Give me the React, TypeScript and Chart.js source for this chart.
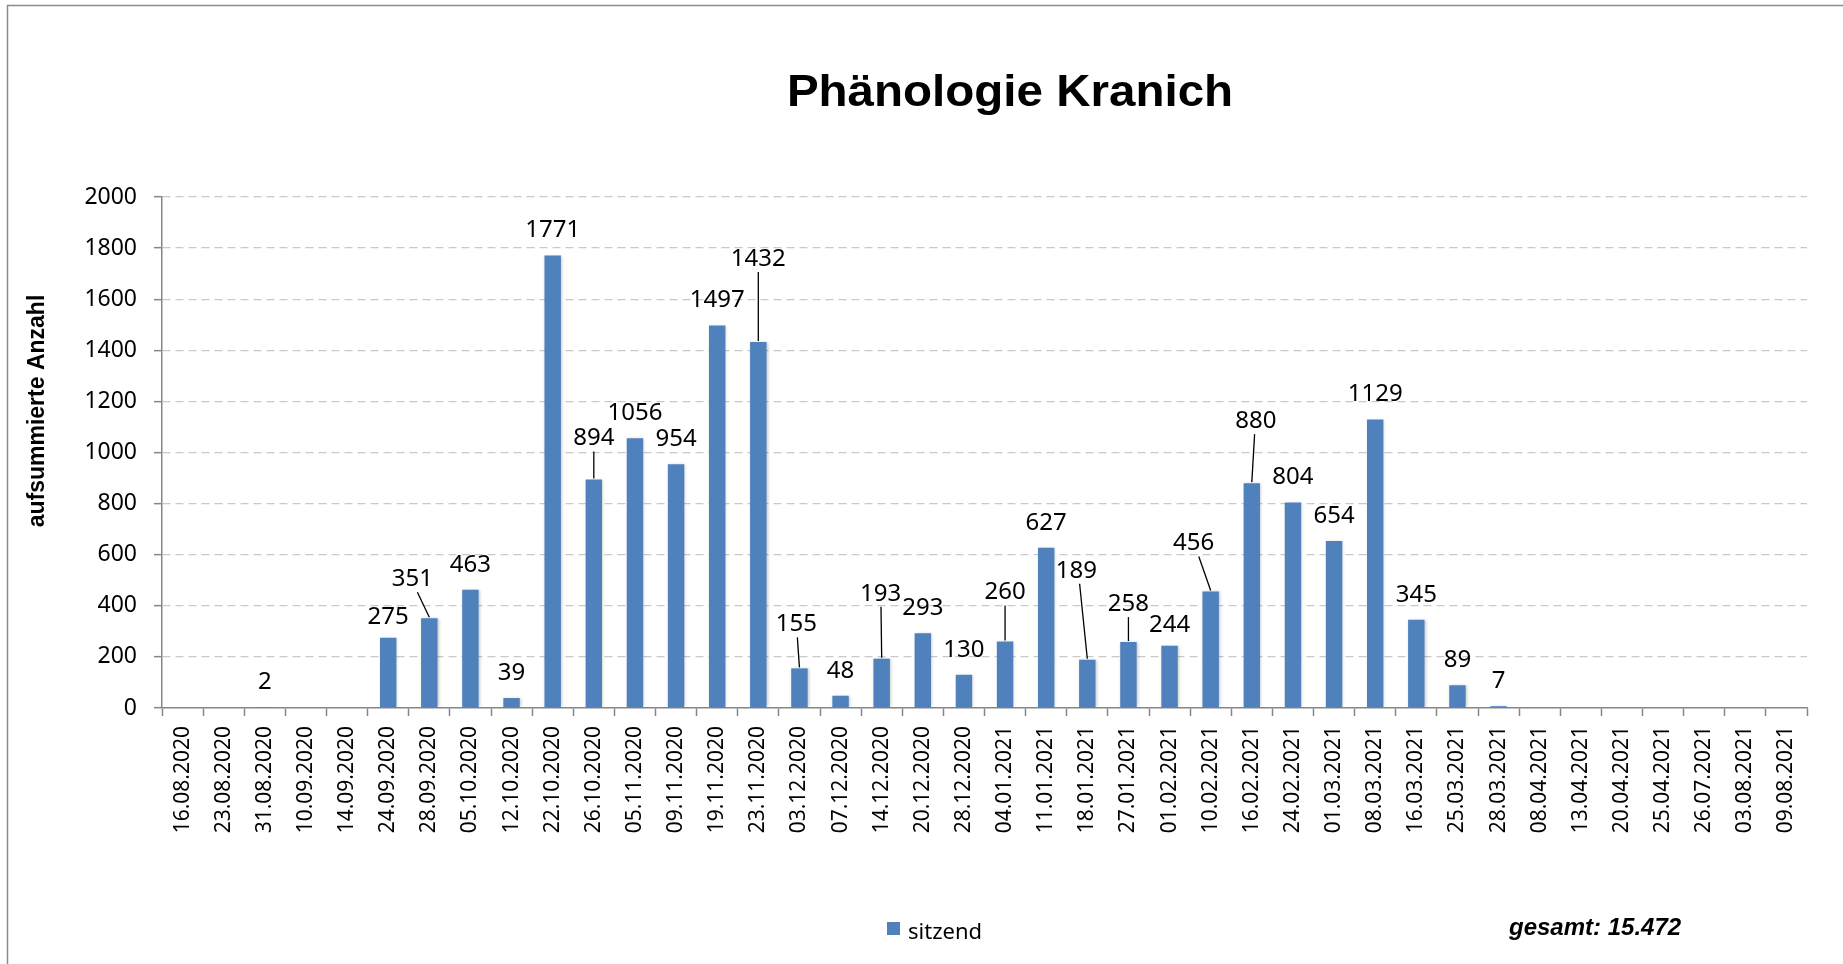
import React, { useEffect, useRef } from "react";
import { Chart, registerables } from "chart.js";

Chart.register(...registerables);

// ---------- data ----------
const categories: string[] = [
  "16.08.2020", "23.08.2020", "31.08.2020", "10.09.2020", "14.09.2020",
  "24.09.2020", "28.09.2020", "05.10.2020", "12.10.2020", "22.10.2020",
  "26.10.2020", "05.11.2020", "09.11.2020", "19.11.2020", "23.11.2020",
  "03.12.2020", "07.12.2020", "14.12.2020", "20.12.2020", "28.12.2020",
  "04.01.2021", "11.01.2021", "18.01.2021", "27.01.2021", "01.02.2021",
  "10.02.2021", "16.02.2021", "24.02.2021", "01.03.2021", "08.03.2021",
  "16.03.2021", "25.03.2021", "28.03.2021", "08.04.2021", "13.04.2021",
  "20.04.2021", "25.04.2021", "26.07.2021", "03.08.2021", "09.08.2021",
];

const sitzend: number[] = [
  0, 0, 2, 0, 0,
  275, 351, 463, 39, 1771,
  894, 1056, 954, 1497, 1432,
  155, 48, 193, 293, 130,
  260, 627, 189, 258, 244,
  456, 880, 804, 654, 1129,
  345, 89, 7, 0, 0,
  0, 0, 0, 0, 0,
];

const yMin = 0;
const yMax = 2000;
const yStep = 200;

const chartTitle = "Phänologie Kranich";
const yAxisTitle = "aufsummierte Anzahl";
const seriesName = "sitzend";
const totalNote = "gesamt: 15.472";

// ---------- label placement (layout only) ----------
// [dx, dy, leaderLine] relative to default label position above bar
const labelShift: Record<number, [number, number, boolean]> = {
  5: [0, 4, false],
  6: [-17, -14, true],
  10: [0, -16, true],
  14: [0, -58, true],
  15: [-3, -19, true],
  17: [-1, -40, true],
  20: [0, -24, true],
  22: [-11, -64, true],
  23: [0, -13, true],
  24: [0, 4, false],
  25: [-17, -23, true],
  26: [4, -37, true],
};

const BAR_COLOR = "#4F81BD";
const AXIS_COLOR = "#868686";
const GRID_COLOR = "#c9c9c9";
const TICK_FONT = "'Noto Sans'";

const decorPlugin = {
  id: "decor",
  beforeDraw(chart: any) {
    const ctx = chart.ctx;
    ctx.save();
    ctx.fillStyle = "#ffffff";
    ctx.fillRect(0, 0, chart.width, chart.height);
    ctx.strokeStyle = "#8c8c8c";
    ctx.lineWidth = 1.5;
    ctx.strokeRect(7.5, 5.5, chart.width + 40, chart.height + 40);
    ctx.restore();
  },
  beforeDatasetsDraw(chart: any) {
    const ctx = chart.ctx;
    ctx.save();
    ctx.shadowColor = "rgba(0,0,0,0.22)";
    ctx.shadowBlur = 3;
    ctx.shadowOffsetX = 1;
    ctx.shadowOffsetY = 0;
  },
  afterDatasetsDraw(chart: any) {
    const ctx = chart.ctx;
    ctx.restore();
    const meta = chart.getDatasetMeta(0);
    const data = chart.data.datasets[0].data as number[];
    ctx.save();
    ctx.font = `24px ${TICK_FONT}`;
    ctx.fillStyle = "#000";
    ctx.textAlign = "center";
    ctx.textBaseline = "middle";
    meta.data.forEach((bar: any, i: number) => {
      const v = data[i];
      if (!v) return;
      const shift = labelShift[i] || [0, 0, false];
      const lx = bar.x + shift[0];
      const ly = bar.y - 25 + shift[1];
      ctx.fillText(String(v), lx, ly);
      if (shift[2]) {
        ctx.beginPath();
        ctx.strokeStyle = "#000";
        ctx.lineWidth = 1.3;
        const sx = lx + (bar.x - lx) * 0.3;
        ctx.moveTo(sx, ly + 13);
        ctx.lineTo(bar.x, bar.y - 1);
        ctx.stroke();
      }
    });
    ctx.restore();
  },
  afterDraw(chart: any) {
    const ctx = chart.ctx;
    ctx.save();
    // title (slightly widened like the reference)
    ctx.font = "bold 44px 'Liberation Sans'";
    ctx.fillStyle = "#000";
    ctx.textAlign = "center";
    ctx.textBaseline = "alphabetic";
    ctx.save();
    ctx.translate(1010, 106);
    ctx.scale(1.08, 1);
    ctx.fillText(chartTitle, 0, 0);
    ctx.restore();

    // y axis title
    ctx.save();
    ctx.translate(44, 411);
    ctx.rotate(-Math.PI / 2);
    ctx.font = "bold 23px 'Liberation Sans'";
    ctx.textAlign = "center";
    ctx.textBaseline = "alphabetic";
    ctx.fillText(yAxisTitle, 0, 0);
    ctx.restore();

    // legend
    ctx.fillStyle = BAR_COLOR;
    ctx.fillRect(887, 922, 13, 13);
    ctx.fillStyle = "#000";
    ctx.font = `22px ${TICK_FONT}`;
    ctx.textAlign = "left";
    ctx.textBaseline = "alphabetic";
    ctx.fillText(seriesName, 908, 939);

    // total note
    ctx.font = "italic bold 24px 'Liberation Sans'";
    ctx.fillText(totalNote, 1509, 935);
    ctx.restore();
  },
};

export default function App() {
  const canvasRef = useRef<HTMLCanvasElement | null>(null);

  useEffect(() => {
    const canvas = canvasRef.current;
    if (!canvas) return;
    const chart = new Chart(canvas, {
      type: "bar",
      data: {
        labels: categories,
        datasets: [
          {
            label: seriesName,
            data: sitzend,
            backgroundColor: BAR_COLOR,
            borderWidth: 0,
            barPercentage: 0.4,
            categoryPercentage: 1,
          },
        ],
      },
      options: {
        responsive: false,
        animation: false,
        events: [],
        layout: { padding: { left: 0, top: 197, right: 36, bottom: 0 } },
        plugins: {
          legend: { display: false },
          title: { display: false },
          tooltip: { enabled: false },
        },
        scales: {
          x: {
            offset: true,
            grid: {
              offset: true,
              drawOnChartArea: false,
              drawTicks: true,
              tickLength: 8,
              tickColor: AXIS_COLOR,
              tickWidth: 1.5,
            },
            border: { display: true, color: AXIS_COLOR, width: 1.5 },
            ticks: {
              autoSkip: false,
              minRotation: 90,
              maxRotation: 90,
              padding: 10,
              color: "#000",
              font: { family: "Noto Sans", size: 21 },
            },
            afterFit: (scale: any) => {
              scale.height = 256;
            },
          },
          y: {
            min: yMin,
            max: yMax,
            ticks: {
              stepSize: yStep,
              padding: 17,
              color: "#000",
              font: { family: "Noto Sans", size: 23 },
              callback: (v: any) => String(v),
            },
            grid: {
              color: (c: any) => (c.tick && c.tick.value === 0 ? "rgba(0,0,0,0)" : GRID_COLOR),
              lineWidth: 1.3,
              tickLength: 8,
              tickColor: AXIS_COLOR,
              tickWidth: 1.5,
            },
            border: { display: true, color: AXIS_COLOR, width: 1.5, dash: [8, 5] },
            afterFit: (scale: any) => {
              scale.width = 162;
            },
          },
        },
      },
      plugins: [decorPlugin],
    });
    return () => chart.destroy();
  }, []);

  return (
    <canvas
      ref={canvasRef}
      width={1843}
      height={964}
      style={{ position: "absolute", left: 0, top: 0, display: "block" }}
    />
  );
}
